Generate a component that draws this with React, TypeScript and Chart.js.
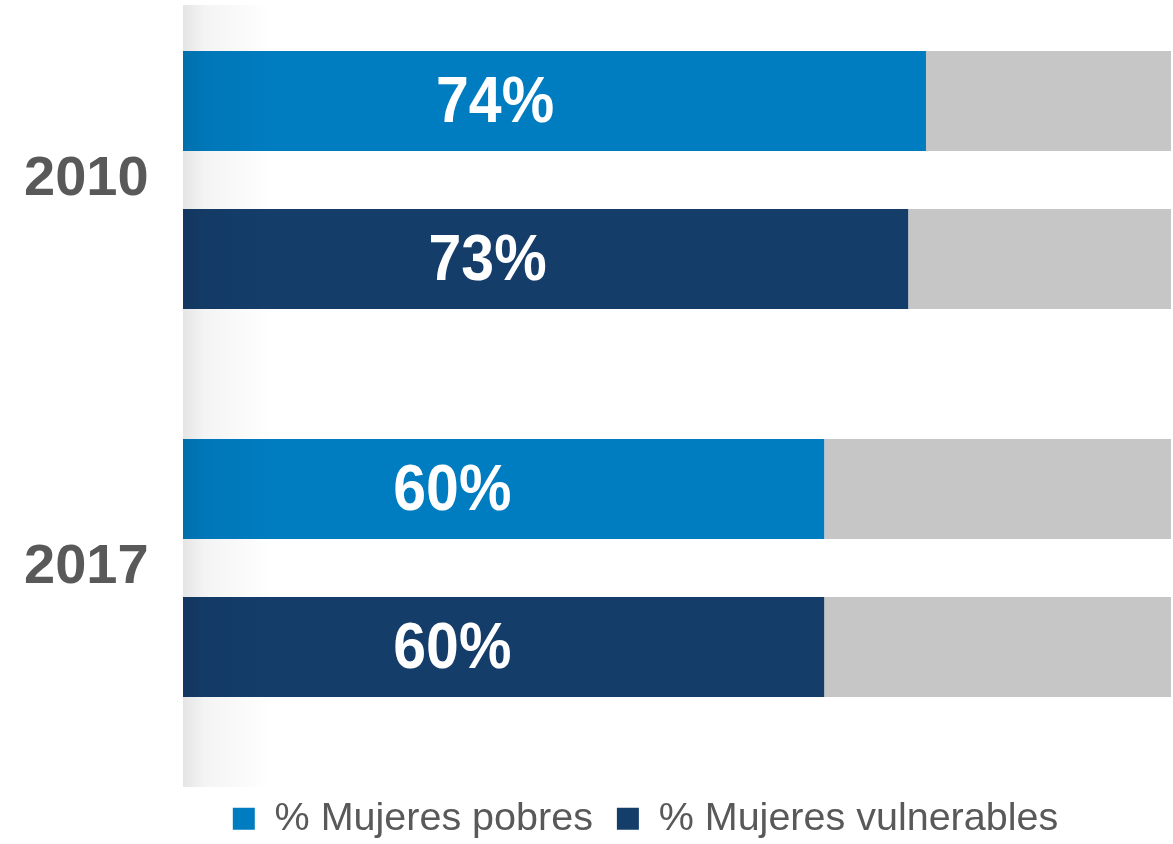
import React, { useEffect, useRef } from 'react';
import { Chart, registerables } from 'chart.js';

Chart.register(...registerables);

// ---- data ----
const years = ['2010', '2017'];
const yearPositions = [0, 1];
// bar lengths as drawn in the picture (share of the full grey 100% bar)
const pobresBar = [75.2, 64.9];
const vulnerablesBar = [73.4, 64.9];
// printed value labels
const pobresLabels = ['74%', '60%'];
const vulnerablesLabels = ['73%', '60%'];
const total = 100;
const seriesNames = ['% Mujeres pobres', '% Mujeres vulnerables'];

const BLUE = '#007CC0';
const NAVY = '#143D6A';
const GRAY = '#C6C6C6';
const TEXT = '#595959';
const FONT = '"Liberation Sans", Arial, Helvetica, sans-serif';

const toPoints = (vals: number[]) => vals.map((v, i) => ({ x: v, y: yearPositions[i] }));

const decoPlugin = {
  id: 'deco',
  afterDatasetsDraw(chart: any) {
    const { ctx, chartArea } = chart;
    // soft shadow strip along the left edge of the plot
    ctx.save();
    const g = ctx.createLinearGradient(chartArea.left, 0, chartArea.left + 88, 0);
    g.addColorStop(0, 'rgba(0,0,0,0.10)');
    g.addColorStop(0.25, 'rgba(0,0,0,0.045)');
    g.addColorStop(1, 'rgba(0,0,0,0)');
    ctx.fillStyle = g;
    ctx.fillRect(chartArea.left, chartArea.top, 88, chartArea.bottom - chartArea.top + 12);
    ctx.restore();

    // value labels (slightly condensed, tall type as in the original)
    chart.data.datasets.forEach((ds: any, di: number) => {
      if (!ds.valueLabels) return;
      const meta = chart.getDatasetMeta(di);
      meta.data.forEach((bar: any, i: number) => {
        const { x, y, base } = bar.getProps(['x', 'y', 'base'], true);
        ctx.save();
        ctx.translate(base + (x - base) * 0.42, y + 3);
        ctx.scale(1, 1.1);
        ctx.fillStyle = '#FFFFFF';
        ctx.font = `bold 59px ${FONT}`;
        ctx.textAlign = 'center';
        ctx.textBaseline = 'middle';
        ctx.fillText(ds.valueLabels[i], 0, 0);
        ctx.restore();
      });
    });
  },
};

export default function App() {
  const ref = useRef<HTMLCanvasElement | null>(null);

  useEffect(() => {
    document.body.style.margin = '0';
    document.body.style.overflow = 'hidden';
    if (!ref.current) return;
    const barOpts = { categoryPercentage: 0.8144, barPercentage: 0.6329, borderWidth: 0 };
    const chart = new Chart(ref.current, {
      type: 'bar',
      data: {
        datasets: [
          { label: seriesNames[0], data: toPoints(pobresBar), backgroundColor: BLUE, stack: 'p', valueLabels: pobresLabels, ...barOpts } as any,
          { label: 'resto', data: toPoints(pobresBar.map((v) => total - v)), backgroundColor: GRAY, stack: 'p', ...barOpts } as any,
          { label: seriesNames[1], data: toPoints(vulnerablesBar), backgroundColor: NAVY, stack: 'v', valueLabels: vulnerablesLabels, ...barOpts } as any,
          { label: 'resto', data: toPoints(vulnerablesBar.map((v) => total - v)), backgroundColor: GRAY, stack: 'v', ...barOpts } as any,
        ],
      },
      options: {
        indexAxis: 'y',
        responsive: false,
        animation: false,
        layout: { padding: { top: 5, left: 120, right: 2, bottom: 0 } },
        scales: {
          x: { type: 'linear', min: 0, max: total, stacked: true, display: false },
          y: {
            type: 'linear',
            reverse: true,
            min: -0.451,
            max: 1.5335,
            offset: false,
            grid: { display: false, drawTicks: false },
            border: { display: false },
            afterBuildTicks: (s: any) => {
              s.ticks = yearPositions.map((v) => ({ value: v }));
            },
            afterFit: (s: any) => {
              s.width = 63;
              s.paddingTop = 0;
              s.paddingBottom = 0;
            },
            ticks: {
              autoSkip: false,
              mirror: true,
              padding: -159,
              color: TEXT,
              font: { family: FONT, size: 56, weight: 'bold' },
              callback: (v: any) => {
                const k = yearPositions.indexOf(Number(v));
                return k >= 0 ? years[k] : '';
              },
            },
          },
        },
        plugins: {
          tooltip: { enabled: false },
          legend: {
            position: 'bottom',
            maxHeight: 69,
            labels: {
              boxWidth: 22,
              boxHeight: 22,
              padding: 24,
              color: TEXT,
              font: { family: FONT, size: 39.5 },
              filter: (item: any) => item.datasetIndex === 0 || item.datasetIndex === 2,
            },
          },
        },
      } as any,
      plugins: [decoPlugin],
    });
    return () => chart.destroy();
  }, []);

  return (
    <div style={{ width: 1173, height: 844, background: '#FFFFFF' }}>
      <canvas ref={ref} width={1173} height={844} style={{ display: 'block' }} />
    </div>
  );
}
